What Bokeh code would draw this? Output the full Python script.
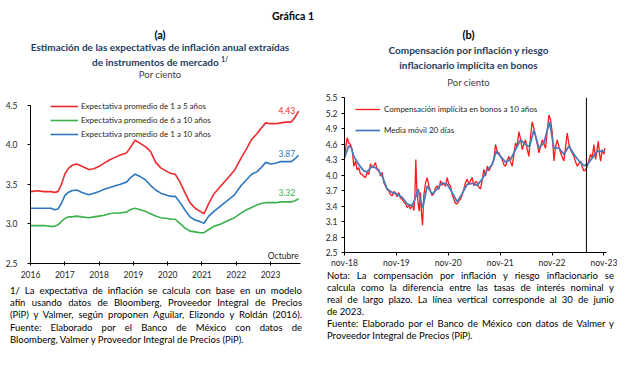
import numpy as np
from bokeh.plotting import figure
from bokeh.models import (Div, Legend, LegendItem, Span, Label, FixedTicker, Range1d,
                          PrintfTickFormatter)
from bokeh.layouts import column, row
from bokeh.embed import file_html
from bokeh.resources import INLINE

FONT = "Lato"

# ---------------- Panel (a): expectativas de inflación (por ciento) ----------------
A_YEARS = [2016.0, 2016.2, 2016.4, 2016.6, 2016.7, 2016.8, 2016.9, 2017.0, 2017.1, 2017.2,
           2017.35, 2017.5, 2017.7, 2017.85, 2018.0, 2018.15, 2018.3, 2018.45, 2018.6, 2018.8,
           2018.9, 2019.05, 2019.2, 2019.35, 2019.5, 2019.65, 2019.8, 2020.0, 2020.1, 2020.22,
           2020.35, 2020.5, 2020.65, 2020.8, 2020.95, 2021.06, 2021.2, 2021.35, 2021.55, 2021.75,
           2021.95, 2022.15, 2022.3, 2022.45, 2022.6, 2022.72, 2022.86, 2023.0, 2023.15, 2023.3,
           2023.45, 2023.6, 2023.7, 2023.82]
A_1A5 = [3.41, 3.42, 3.41, 3.41, 3.40, 3.41, 3.50, 3.63, 3.70, 3.74,
         3.76, 3.73, 3.69, 3.70, 3.73, 3.77, 3.81, 3.84, 3.87, 3.90,
         3.96, 4.06, 4.02, 3.98, 3.92, 3.78, 3.71, 3.66, 3.64, 3.63,
         3.54, 3.40, 3.27, 3.20, 3.16, 3.13, 3.26, 3.38, 3.48, 3.58,
         3.68, 3.84, 3.95, 4.07, 4.14, 4.21, 4.28, 4.27, 4.27, 4.28,
         4.29, 4.29, 4.34, 4.43]
A_6A10 = [2.98, 2.98, 2.98, 2.97, 2.97, 2.99, 3.03, 3.07, 3.09, 3.09,
          3.10, 3.09, 3.08, 3.09, 3.10, 3.11, 3.13, 3.14, 3.14, 3.15,
          3.18, 3.20, 3.18, 3.16, 3.13, 3.10, 3.08, 3.07, 3.06, 3.06,
          3.01, 2.95, 2.91, 2.90, 2.89, 2.89, 2.93, 2.97, 3.00, 3.04,
          3.08, 3.14, 3.18, 3.21, 3.24, 3.26, 3.27, 3.27, 3.27, 3.28,
          3.28, 3.28, 3.29, 3.32]
A_1A10 = [3.20, 3.20, 3.20, 3.20, 3.18, 3.19, 3.26, 3.36, 3.40, 3.42,
          3.43, 3.40, 3.37, 3.39, 3.41, 3.44, 3.46, 3.48, 3.50, 3.53,
          3.58, 3.63, 3.60, 3.56, 3.49, 3.43, 3.39, 3.36, 3.35, 3.35,
          3.28, 3.18, 3.09, 3.05, 3.03, 3.01, 3.10, 3.16, 3.23, 3.30,
          3.37, 3.49, 3.56, 3.63, 3.66, 3.71, 3.78, 3.76, 3.77, 3.79,
          3.79, 3.79, 3.82, 3.87]
A_XTICKS = [2016, 2017, 2018, 2019, 2020, 2021, 2022, 2023]
A_YTICKS = [2.5, 3.0, 3.5, 4.0, 4.5]
A_LABELS = ["Expectativa promedio de 1 a 5 años",
            "Expectativa promedio de 6 a 10 años",
            "Expectativa promedio de 1 a 10 años"]

# ---------------- Panel (b): compensación por inflación (por ciento) ----------------
B_START = 2018 + 10 / 12.0   # nov-18
B_RED_T = [2018.833, 2018.859, 2018.884, 2018.917, 2018.949, 2018.981, 2019.013, 2019.045, 2019.077, 2019.109,
           2019.141, 2019.174, 2019.206, 2019.238, 2019.270, 2019.302, 2019.334, 2019.366, 2019.398, 2019.431,
           2019.463, 2019.495, 2019.527, 2019.559, 2019.591, 2019.623, 2019.655, 2019.688, 2019.720, 2019.752,
           2019.784, 2019.816, 2019.848, 2019.880, 2019.912, 2019.945, 2019.977, 2020.009, 2020.041, 2020.073,
           2020.105, 2020.138, 2020.170, 2020.189, 2020.208, 2020.228, 2020.253, 2020.273, 2020.298, 2020.318,
           2020.337, 2020.363, 2020.395, 2020.427, 2020.459, 2020.491, 2020.523, 2020.555, 2020.587, 2020.620,
           2020.652, 2020.684, 2020.716, 2020.748, 2020.780, 2020.812, 2020.845, 2020.877, 2020.909, 2020.941,
           2020.973, 2021.005, 2021.037, 2021.069, 2021.102, 2021.134, 2021.166, 2021.198, 2021.230, 2021.262,
           2021.295, 2021.327, 2021.359, 2021.391, 2021.423, 2021.455, 2021.488, 2021.520, 2021.552, 2021.584,
           2021.616, 2021.648, 2021.680, 2021.712, 2021.744, 2021.777, 2021.809, 2021.841, 2021.873, 2021.905,
           2021.937, 2021.969, 2022.001, 2022.034, 2022.066, 2022.098, 2022.130, 2022.162, 2022.194, 2022.227,
           2022.259, 2022.291, 2022.323, 2022.355, 2022.387, 2022.420, 2022.452, 2022.484, 2022.516, 2022.548,
           2022.580, 2022.613, 2022.645, 2022.677, 2022.709, 2022.741, 2022.773, 2022.806, 2022.838, 2022.870,
           2022.902, 2022.934, 2022.966, 2022.998, 2023.030, 2023.063, 2023.095, 2023.127, 2023.159, 2023.191,
           2023.223, 2023.255, 2023.288, 2023.320, 2023.352, 2023.384, 2023.416, 2023.448, 2023.480, 2023.513,
           2023.545, 2023.577, 2023.609, 2023.641, 2023.673, 2023.706, 2023.725, 2023.750, 2023.770, 2023.802,
           2023.834, 2023.853]
B_RED_V = [4.30, 4.55, 4.72, 4.62, 4.59, 4.49, 4.17, 4.27, 4.10, 4.14,
           4.02, 4.01, 3.97, 3.95, 4.05, 4.01, 4.22, 4.14, 4.18, 4.24,
           4.10, 4.11, 3.98, 4.05, 3.85, 3.79, 3.72, 3.69, 3.62, 3.60,
           3.68, 3.66, 3.58, 3.66, 3.55, 3.53, 3.48, 3.44, 3.37, 3.41,
           3.34, 3.44, 3.31, 3.55, 4.30, 3.70, 3.45, 3.30, 3.66, 3.25,
           3.03, 3.60, 3.85, 3.95, 3.79, 3.69, 3.60, 3.64, 3.75, 3.79,
           3.72, 3.89, 3.80, 3.85, 3.78, 3.95, 3.82, 3.79, 3.62, 3.53,
           3.45, 3.44, 3.50, 3.53, 3.62, 3.73, 3.85, 3.92, 3.82, 3.89,
           3.95, 3.79, 3.88, 3.85, 3.76, 3.73, 3.90, 4.11, 3.98, 4.17,
           4.08, 4.14, 4.22, 4.30, 4.59, 4.45, 4.43, 4.35, 4.30, 4.20,
           4.17, 4.28, 4.36, 4.25, 4.17, 4.40, 4.62, 4.55, 4.84, 4.70,
           4.49, 4.60, 4.68, 4.50, 4.36, 4.75, 5.03, 4.90, 4.75, 4.60,
           4.43, 4.55, 4.68, 4.60, 4.52, 4.85, 5.16, 5.07, 4.81, 4.27,
           4.55, 4.68, 4.55, 4.43, 4.35, 4.27, 4.55, 4.81, 4.60, 4.49,
           4.42, 4.36, 4.25, 4.17, 4.22, 4.27, 4.15, 4.08, 4.10, 4.17,
           4.28, 4.40, 4.33, 4.59, 4.30, 4.52, 4.65, 4.40, 4.27, 4.49,
           4.40, 4.52]
B_MA_T = [2018.833, 2018.917, 2018.968, 2019.013, 2019.109, 2019.206, 2019.270, 2019.366, 2019.463, 2019.559,
          2019.655, 2019.752, 2019.848, 2019.945, 2020.041, 2020.138, 2020.202, 2020.253, 2020.298, 2020.343,
          2020.427, 2020.523, 2020.620, 2020.716, 2020.812, 2020.909, 2021.005, 2021.102, 2021.198, 2021.295,
          2021.391, 2021.488, 2021.584, 2021.680, 2021.757, 2021.841, 2021.937, 2022.034, 2022.130, 2022.227,
          2022.323, 2022.400, 2022.484, 2022.580, 2022.677, 2022.786, 2022.870, 2022.966, 2023.063, 2023.159,
          2023.255, 2023.352, 2023.448, 2023.513, 2023.609, 2023.706, 2023.802, 2023.853]
B_MA_V = [4.33, 4.57, 4.52, 4.36, 4.20, 4.08, 4.06, 4.17, 4.12, 3.98,
          3.73, 3.66, 3.63, 3.57, 3.44, 3.40, 3.57, 3.73, 3.50, 3.37,
          3.79, 3.63, 3.73, 3.85, 3.82, 3.66, 3.48, 3.64, 3.82, 3.84,
          3.80, 3.92, 4.10, 4.20, 4.46, 4.36, 4.25, 4.30, 4.49, 4.68,
          4.59, 4.55, 4.87, 4.52, 4.62, 5.03, 4.52, 4.52, 4.40, 4.56,
          4.40, 4.27, 4.18, 4.20, 4.33, 4.46, 4.46, 4.46]
B_XTICK_LABELS = ["nov-18", "nov-19", "nov-20", "nov-21", "nov-22", "nov-23"]
B_YTICKS = [2.5, 2.8, 3.1, 3.4, 3.7, 4.0, 4.3, 4.6, 4.9, 5.2, 5.5]
B_VLINE = 2023 + 5 / 12.0 + 29 / 365.0   # 30 de junio de 2023
B_LABELS = ["Compensación implícita en bonos a 10 años", "Media móvil 20 días"]

# colours
A_RED, A_GREEN, A_BLUE = "#EC2B2E", "#3BB14B", "#2E77BF"
B_RED, B_BLUE = "#FF1A1A", "#4A7CBA"
TITLE_BLUE = "#1F3B5E"
TICK_COL = "#262626"


def style_axes(p):
    p.xgrid.grid_line_color = None
    p.ygrid.grid_line_color = None
    for ax in p.axis:
        ax.axis_line_color = "black"
        ax.axis_line_width = 1
        ax.major_tick_line_color = "black"
        ax.minor_tick_line_color = None
        ax.major_label_text_font = FONT
        ax.major_label_text_font_size = "8.5px"
        ax.major_label_text_color = TICK_COL


# ---------------- Figure (a) ----------------
# frame: 4.5 at 7 px below the frame top, so the legend fits inside
pa = figure(width=312, height=187, x_range=Range1d(2016, 2023.875), y_range=Range1d(2.5, 4.5886),
            output_backend="svg", toolbar_location=None, min_border_left=30, min_border_right=12,
            min_border_top=1, min_border_bottom=21, outline_line_color=None, margin=0,
            background_fill_color="white", border_fill_color="white")
ra = pa.line(A_YEARS, A_1A5, line_color=A_RED, line_width=1.6)
ga = pa.line(A_YEARS, A_6A10, line_color=A_GREEN, line_width=1.6)
ba = pa.line(A_YEARS, A_1A10, line_color=A_BLUE, line_width=1.6)
style_axes(pa)
pa.xaxis.ticker = FixedTicker(ticks=A_XTICKS)
pa.yaxis.ticker = FixedTicker(ticks=A_YTICKS)
pa.yaxis.formatter = PrintfTickFormatter(format="%.1f")
pa.yaxis.bounds = (2.5, 4.5)
pa.xaxis.major_tick_in = 2
pa.xaxis.major_tick_out = 2
pa.xaxis.major_label_standoff = 5
pa.yaxis.major_tick_in = 0
pa.yaxis.major_tick_out = 3
pa.yaxis.major_label_standoff = 10

leg_a = Legend(items=[LegendItem(label=A_LABELS[0], renderers=[ra]),
                      LegendItem(label=A_LABELS[1], renderers=[ga]),
                      LegendItem(label=A_LABELS[2], renderers=[ba])],
               location=(20, 122), glyph_width=28, glyph_height=14, label_height=14,
               label_standoff=3, spacing=0, padding=0, margin=0,
               border_line_color=None, background_fill_alpha=0,
               label_text_font=FONT, label_text_font_size="8px", label_text_color=TICK_COL)
pa.add_layout(leg_a)

for vals, col, dy in [(A_1A5, A_RED, 0.01), (A_1A10, A_BLUE, 0.02), (A_6A10, A_GREEN, 0.08)]:
    pa.add_layout(Label(x=A_YEARS[-1] - 0.1, y=vals[-1] + dy, text=f"{vals[-1]:.2f}",
                        text_align="right", text_baseline="middle", text_color=col,
                        text_font=FONT, text_font_size="8.5px"))
pa.add_layout(Label(x=A_YEARS[-1], y=2.6, text="Octubre", text_align="right",
                    text_baseline="middle", text_color=TICK_COL, text_font=FONT,
                    text_font_size="8.5px"))

# ---------------- Figure (b) ----------------
b_red_m = (np.array(B_RED_T) - B_START) * 12
b_ma_m = (np.array(B_MA_T) - B_START) * 12
b_ticks = [12 * i for i in range(len(B_XTICK_LABELS))]

pb = figure(width=305, height=180, x_range=Range1d(0, 60.6), y_range=Range1d(2.5, 5.5),
            output_backend="svg", toolbar_location=None, min_border_left=32, min_border_right=11,
            min_border_top=7, min_border_bottom=16, outline_line_color=None, margin=0,
            background_fill_color="white", border_fill_color="white")
rb = pb.line(b_red_m, B_RED_V, line_color=B_RED, line_width=1.3)
bb = pb.line(b_ma_m, B_MA_V, line_color=B_BLUE, line_width=1.8)
style_axes(pb)
pb.xaxis.ticker = FixedTicker(ticks=b_ticks)
pb.xaxis.major_label_overrides = {t: lab for t, lab in zip(b_ticks, B_XTICK_LABELS)}
pb.yaxis.ticker = FixedTicker(ticks=B_YTICKS)
pb.yaxis.formatter = PrintfTickFormatter(format="%.1f")
pb.xaxis.major_tick_in = 0
pb.xaxis.major_tick_out = 3
pb.xaxis.major_label_standoff = 2
pb.yaxis.major_tick_in = 0
pb.yaxis.major_tick_out = 3
pb.yaxis.major_label_standoff = 4
pb.add_layout(Span(location=(B_VLINE - B_START) * 12, dimension="height",
                   line_color="black", line_width=1))

leg_b = Legend(items=[LegendItem(label=B_LABELS[0], renderers=[rb]),
                      LegendItem(label=B_LABELS[1], renderers=[bb])],
               location=(11, 115), glyph_width=25, glyph_height=14, label_height=14,
               label_standoff=4, spacing=7, padding=0, margin=0,
               border_line_color=None, background_fill_alpha=0,
               label_text_font=FONT, label_text_font_size="8px", label_text_color=TICK_COL)
pb.add_layout(leg_b)

# ---------------- Texts ----------------
def ln(text, mt=0, h=12, size=None, weight="normal", color="#000", align="center", extra=""):
    s = f"height:{h}px;line-height:{h}px;margin-top:{mt}px;white-space:nowrap;font-weight:{weight};color:{color};text-align:{align};text-align-last:{align};"
    if size:
        s += f"font-size:{size};"
    return f'<div style="{s}{extra}">{text}</div>'


title_div = Div(text=f'<div style="font-family:{FONT};width:617px;padding-right:31px;box-sizing:border-box;">'
                     + ln("Gráfica 1", mt=-5, size="10.5px", weight="bold") + '</div>',
                width=617, height=14, margin=0)

head_a = Div(text=f'<div style="font-family:{FONT};width:312px;padding-left:8px;box-sizing:border-box;">'
                  + ln("(a)", mt=7, size="11px", weight="bold")
                  + ln("Estimación de las expectativas de inflación anual extraídas", mt=0, size="10px",
                       weight="bold", color=TITLE_BLUE)
                  + ln('de instrumentos de mercado <span style="font-size:6.5px;vertical-align:4px;">1/</span>',
                       mt=1, size="10px", weight="bold", color=TITLE_BLUE)
                  + ln("Por ciento", mt=3, size="9.5px", color="#404040")
                  + '</div>', width=312, height=75, margin=0)

head_b = Div(text=f'<div style="font-family:{FONT};width:305px;padding-left:8px;box-sizing:border-box;">'
                  + ln("(b)", mt=7, size="11px", weight="bold")
                  + ln("Compensación por inflación y riesgo", mt=3, size="10px",
                       weight="bold", color=TITLE_BLUE)
                  + ln("inflacionario implícita en bonos", mt=3, size="10px", weight="bold", color=TITLE_BLUE)
                  + ln("Por ciento", mt=6, size="9.5px", color="#404040")
                  + '</div>', width=305, height=68, margin=0)

NOTE_A = [("1/ La expectativa de inflación se calcula con base en un modelo", "justify", 1),
          ("afín usando datos de Bloomberg, Proveedor Integral de Precios", "justify", 0),
          ("(PiP) y Valmer, según proponen Aguilar, Elizondo y Roldán (2016).", "justify", 0),
          ("Fuente: Elaborado por el Banco de México con datos de", "justify", 1),
          ("Bloomberg, Valmer y Proveedor Integral de Precios (PiP).", "left", 0)]
NOTE_B = [("Nota: La compensación por inflación y riesgo inflacionario se", "justify", 0),
          ("calcula como la diferencia entre las tasas de interés nominal y", "justify", 0),
          ("real de largo plazo. La línea vertical corresponde al 30 de junio", "justify", 0),
          ("de 2023.", "left", 0),
          ("Fuente: Elaborado por el Banco de México con datos de Valmer y", "justify", 0),
          ("Proveedor Integral de Precios (PiP).", "left", 0)]

notes_a = Div(text=f'<div style="font-family:{FONT};font-size:9.5px;margin-left:10px;width:292px;">'
                   + "".join(ln(t, mt=m, align=a) for t, a, m in NOTE_A) + '</div>',
              width=312, height=73, margin=0)
notes_b = Div(text=f'<div style="font-family:{FONT};font-size:9.5px;margin-left:15px;width:287px;">'
                   + "".join(ln(t, mt=m, align=a) for t, a, m in NOTE_B) + '</div>',
              width=305, height=79, margin=0)

col_a = column(head_a, pa, notes_a, spacing=0, margin=0)
col_b = column(head_b, pb, notes_b, spacing=0, margin=0)
page = column(title_div, row(col_a, col_b, spacing=0, margin=0), spacing=0, margin=(8, 0, 0, 0))

open("out.html", "w").write(file_html(page, INLINE))
